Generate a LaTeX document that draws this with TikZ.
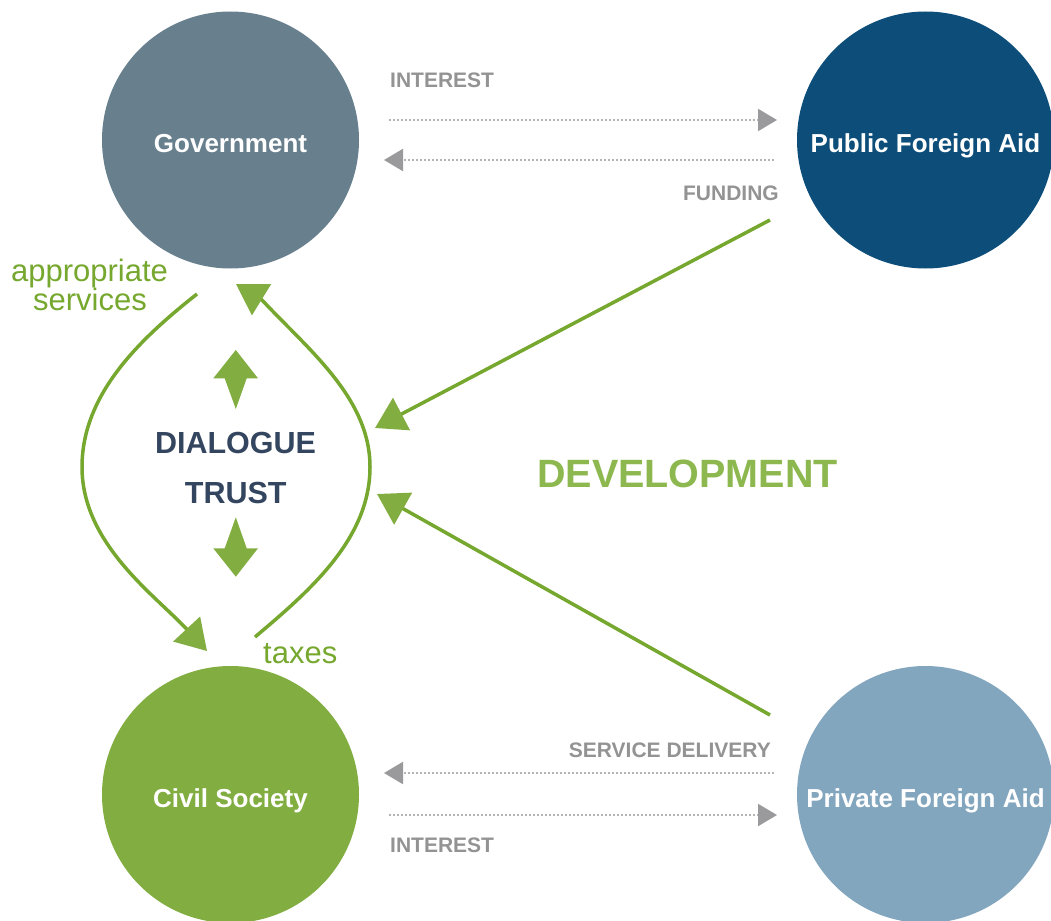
\documentclass[tikz,border=0pt]{standalone}
\usepackage{fontspec}
\setmainfont{Liberation Sans}
\usetikzlibrary{arrows.meta}
\definecolor{govcol}{HTML}{687F8D}
\definecolor{pubcol}{HTML}{0C4D79}
\definecolor{civcol}{HTML}{82AD41}
\definecolor{pricol}{HTML}{83A6BF}
\definecolor{linegreen}{HTML}{76A72E}
\definecolor{tipgreen}{HTML}{82AD41}
\definecolor{devgreen}{HTML}{8DB84F}
\definecolor{dtblue}{HTML}{34465F}
\definecolor{flowgray}{HTML}{9A9A9C}
\definecolor{labgray}{HTML}{939393}
\begin{document}
\begin{tikzpicture}[x=1pt,y=-1pt,
  party/.style={circle, inner sep=0pt, outer sep=0pt, minimum size=257pt,
    text=white, font=\fontsize{26}{30}\selectfont\bfseries,
    text height=26pt, text depth=0pt},
  graylab/.style={inner sep=0pt, font=\fontsize{21}{24}\selectfont\bfseries, text=labgray},
  greenlab/.style={inner sep=0pt, font=\fontsize{31}{34}\selectfont, text=linegreen},
  dtlab/.style={inner sep=0pt, font=\fontsize{30.5}{34}\selectfont\bfseries, text=dtblue},
  flowarrow/.style={draw=flowgray, line width=2.2pt, line cap=round,
    dash pattern=on 0pt off 4pt,
    -{Triangle[length=19pt,width=22pt,color=flowgray]}},
  greenarrow/.style={draw=linegreen, line width=3.5pt,
    -{Triangle[length=30pt,width=36pt,color=tipgreen]}},
  dblarrow/.style={fill=tipgreen}
]
\path[use as bounding box] (0,0) rectangle (1051,920);
\clip (0,0) rectangle (1051,920);

% circles
\node[party, fill=govcol] (gov) at (230.5,140) {Government};
\node[party, fill=pubcol] (pub) at (925.5,140) {Public Foreign Aid};
\node[party, fill=civcol] (civ) at (230.5,794.5) {Civil Society};
\node[party, fill=pricol] (pri) at (925.5,794.5) {Private Foreign Aid};

% gray flows
\draw[flowarrow] ([shift={(31,-20)}]gov.east) -- ([shift={(-20,-20)}]pub.west);
\draw[flowarrow] ([shift={(-24,20)}]pub.west) -- ([shift={(25,20)}]gov.east);
\draw[flowarrow] ([shift={(-24,-21.5)}]pri.west) -- ([shift={(25,-21.5)}]civ.east);
\draw[flowarrow] ([shift={(31,20.5)}]civ.east) -- ([shift={(-20,20.5)}]pri.west);

\node[graylab, anchor=base west] (intA) at (390,87.5) {INTEREST};
\node[graylab, anchor=base east] (fund) at (779,200.5) {FUNDING};
\node[graylab, anchor=base east] (serv) at (771,757) {SERVICE DELIVERY};
\node[graylab, anchor=base west] (intB) at (390,852) {INTEREST};

% centre texts
\node[dtlab, anchor=base] (dia) at (235.5,453.3) {DIALOGUE};
\node[dtlab, anchor=base] (tru) at (235.8,503.3) {TRUST};
\node[inner sep=0pt, anchor=base, font=\fontsize{39.5}{44}\selectfont\bfseries, text=devgreen] (dev) at (687.5,487.3) {DEVELOPMENT};

\node[greenlab, anchor=base] (appr) at (89.5,281.7) {appropriate};
\node[greenlab, anchor=base] (serc) at (90,310) {services};
\node[greenlab, anchor=base west] (tax) at (263,663.3) {taxes};

% free ends
\coordinate (inA) at (375,428);
\coordinate (inB) at (377,494);
\coordinate (svcS) at (197,294);
\coordinate (svcE) at (207,651);
\coordinate (taxS) at (255,637);
\coordinate (taxE) at (236,284);

% aid flows into the dialogue
\draw[greenarrow] ([shift={(-155.5,80)}]pub.center) -- (inA);
\draw[greenarrow] ([shift={(-155.5,-79.5)}]pri.center) -- (inB);

% appropriate services arc
\draw[greenarrow] (svcS) .. controls (140,339) and (82,394) .. (82,467)
   .. controls (82,544) and (155,595) .. (svcE);
% taxes arc
\draw[greenarrow] (taxS) .. controls (309.5,591) and (370,539) .. (370,467)
   .. controls (370,398) and (308.7,350) .. (262,300) -- (taxE);

% double arrows
\fill[dblarrow] (235.8,350) -- (258,378.3) -- (246.7,378.3) -- (235.8,409)
   -- (224.7,378.3) -- (213.3,378.3) -- cycle;
\fill[dblarrow] (235.8,576.7) -- (258,548.3) -- (246.7,548.3) -- (235.8,517.3)
   -- (224.7,548.3) -- (213.3,548.3) -- cycle;
\end{tikzpicture}
\end{document}
